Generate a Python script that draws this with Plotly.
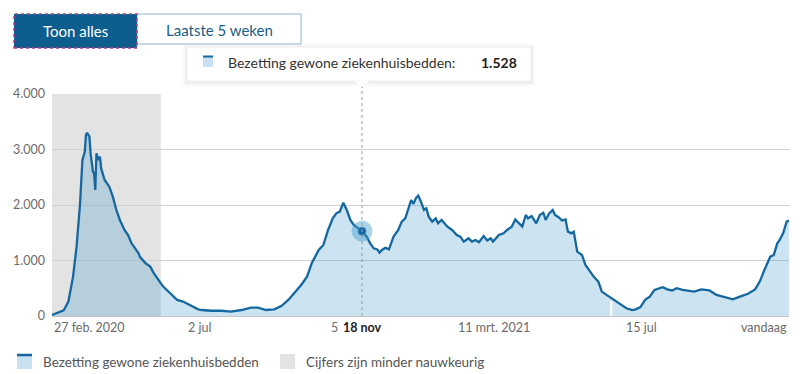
import numpy as np
import pandas as pd
import plotly.graph_objects as go

# ---------------- data ----------------
dates = [
    "2020-02-27", "2020-03-08", "2020-03-12", "2020-03-16", "2020-03-19", "2020-03-22",
    "2020-03-24", "2020-03-26", "2020-03-27", "2020-03-28", "2020-03-30", "2020-03-31",
    "2020-04-02", "2020-04-03", "2020-04-04", "2020-04-05", "2020-04-07", "2020-04-08",
    "2020-04-09", "2020-04-12", "2020-04-16", "2020-04-19", "2020-04-22", "2020-04-25",
    "2020-04-29", "2020-05-02", "2020-05-05", "2020-05-08", "2020-05-11", "2020-05-12",
    "2020-05-17", "2020-05-21", "2020-05-24", "2020-05-28", "2020-06-01", "2020-06-07",
    "2020-06-13", "2020-06-18", "2020-06-24", "2020-07-01", "2020-07-04", "2020-07-12",
    "2020-07-21", "2020-07-29", "2020-08-07", "2020-08-15", "2020-08-21", "2020-08-28",
    "2020-09-04", "2020-09-10", "2020-09-16", "2020-09-22", "2020-09-27", "2020-10-02",
    "2020-10-06", "2020-10-12", "2020-10-16", "2020-10-20", "2020-10-24", "2020-10-27",
    "2020-10-30", "2020-11-02", "2020-11-05", "2020-11-08", "2020-11-11", "2020-11-18",
    "2020-11-22", "2020-11-25", "2020-11-28", "2020-12-01", "2020-12-03", "2020-12-05",
    "2020-12-08", "2020-12-11", "2020-12-15", "2020-12-19", "2020-12-22", "2020-12-25",
    "2020-12-28", "2020-12-30", "2021-01-01", "2021-01-03", "2021-01-05", "2021-01-07",
    "2021-01-10", "2021-01-12", "2021-01-14", "2021-01-17", "2021-01-20", "2021-01-22",
    "2021-01-25", "2021-01-30", "2021-02-03", "2021-02-07", "2021-02-10", "2021-02-13",
    "2021-02-17", "2021-02-20", "2021-02-23", "2021-02-26", "2021-03-02", "2021-03-05",
    "2021-03-08", "2021-03-10", "2021-03-15", "2021-03-19", "2021-03-22", "2021-03-26",
    "2021-03-29", "2021-04-01", "2021-04-04", "2021-04-07", "2021-04-09", "2021-04-12",
    "2021-04-16", "2021-04-19", "2021-04-22", "2021-04-24", "2021-04-27", "2021-04-30",
    "2021-05-02", "2021-05-05", "2021-05-08", "2021-05-11", "2021-05-13", "2021-05-16",
    "2021-05-18", "2021-05-21", "2021-05-25", "2021-05-28", "2021-05-31", "2021-06-04",
    "2021-06-08", "2021-06-11", "2021-06-15", "2021-06-21", "2021-06-27", "2021-07-02",
    "2021-07-07", "2021-07-10", "2021-07-14", "2021-07-18", "2021-07-22", "2021-07-26",
    "2021-08-02", "2021-08-06", "2021-08-10", "2021-08-14", "2021-08-19", "2021-08-23",
    "2021-08-29", "2021-09-04", "2021-09-11", "2021-09-17", "2021-09-24", "2021-10-01",
    "2021-10-07", "2021-10-14", "2021-10-20", "2021-10-24", "2021-10-28", "2021-11-02",
    "2021-11-05", "2021-11-08", "2021-11-10", "2021-11-13", "2021-11-16", "2021-11-18",
]
beds = [
    20, 100, 260, 710, 1250, 2030,
    2810, 2960, 3260, 3300, 3230, 2930,
    2600, 2570, 2270, 2930, 2810, 2870,
    2660, 2450, 2330, 2150, 1910, 1730,
    1550, 1460, 1310, 1220, 1130, 1070,
    950, 890, 770, 650, 530, 410,
    290, 260, 200, 120, 108, 95,
    95, 80, 108, 150, 150, 108,
    120, 180, 290, 440, 560, 710,
    950, 1190, 1280, 1550, 1760, 1850,
    1880, 2040, 1910, 1730, 1640, 1528,
    1430, 1310, 1220, 1200, 1140, 1190,
    1230, 1200, 1430, 1550, 1700, 1760,
    1970, 2090, 2020, 2120, 2170, 2080,
    1910, 1940, 1790, 1700, 1760, 1670,
    1730, 1610, 1550, 1460, 1430, 1340,
    1400, 1340, 1370, 1330, 1440, 1360,
    1400, 1340, 1460, 1490, 1550, 1610,
    1740, 1670, 1610, 1820, 1760, 1800,
    1670, 1820, 1860, 1730, 1850, 1910,
    1820, 1780, 1720, 1740, 1520, 1490,
    1520, 1160, 1100, 920, 830, 710,
    620, 440, 380, 290, 200, 140,
    108, 120, 160, 290, 350, 470,
    520, 480, 460, 500, 470, 460,
    440, 480, 460, 380, 340, 300,
    350, 400, 480, 620, 830, 1070,
    1100, 1310, 1370, 1490, 1700, 1720,
]

series_name = "Bezetting gewone ziekenhuisbedden"
uncertain_name = "Cijfers zijn minder nauwkeurig"
uncertain_start = "2020-02-27"
uncertain_end = "2020-05-30"
hover_date = "2020-11-18"
gap_date = "2021-06-19"

y_ticks = [0, 1000, 2000, 3000, 4000]
x_tick_dates = ["2020-02-27", "2020-07-02", "2020-11-05", "2021-03-11", "2021-07-15", "2021-11-18"]
x_tick_labels = ["27 feb. 2020", "2 jul", "5 nov", "11 mrt. 2021", "15 jul", "vandaag"]
hover_label = "18 nov"
buttons = ["Toon alles", "Laatste 5 weken"]

# ---------------- styling ----------------
W, H = 800, 374
ML, MR, MT, MB = 52, 11, 94, 58
PW, PH = W - ML - MR, H - MT - MB
FONT = "Lato"
LINE = "#15679f"
FILL = "rgba(66,155,207,0.27)"
ICON_FILL = "#c8e1f1"
GREY = "#e3e3e3"


def px(x):
    return (x - ML) / PW


def py(y):
    return (H - MB - y) / PH


def thousands(v):
    return f"{v:,}".replace(",", ".")


d = pd.to_datetime(dates)
hv = beds[dates.index(hover_date)]
ordinals = np.array([t.toordinal() for t in d])
gap_val = float(np.interp(pd.Timestamp(gap_date).toordinal(), ordinals, beds))

fig = go.Figure()
fig.add_trace(go.Scatter(
    x=dates, y=beds, mode="lines", fill="tozeroy", fillcolor=FILL,
    line=dict(color=LINE, width=2.3), name=series_name, showlegend=False,
    hoverinfo="skip",
))
# hover marker (halo + dot)
fig.add_trace(go.Scatter(
    x=[hover_date], y=[hv], mode="markers",
    marker=dict(size=21, color="rgba(66,155,207,0.45)"), showlegend=False, hoverinfo="skip",
))
fig.add_trace(go.Scatter(
    x=[hover_date], y=[hv], mode="markers",
    marker=dict(size=8, color=LINE, line=dict(color="#3f8fc4", width=1)), showlegend=False,
    hoverinfo="skip",
))

shapes = []
# grey "less accurate" band
shapes.append(dict(type="rect", xref="x", yref="paper", x0=uncertain_start, x1=uncertain_end,
                   y0=0, y1=1, fillcolor=GREY, line=dict(width=0), layer="below"))
# white gap in fill
shapes.append(dict(type="line", xref="x", yref="y", x0=gap_date, x1=gap_date, y0=0,
                   y1=gap_val * 0.85, line=dict(color="white", width=2)))
# hover vertical dotted line
shapes.append(dict(type="line", xref="x", yref="paper", x0=hover_date, x1=hover_date,
                   y0=0, y1=py(86), line=dict(color="#999999", width=1, dash="dot")))

# buttons
shapes.append(dict(type="rect", xref="paper", yref="paper", x0=px(137), x1=px(301),
                   y0=py(44), y1=py(14), fillcolor="white", line=dict(color="#8fb2ca", width=1)))
shapes.append(dict(type="rect", xref="paper", yref="paper", x0=px(14), x1=px(137),
                   y0=py(48), y1=py(14), fillcolor="#0d5d8e",
                   line=dict(color="#b23f8e", width=1.5, dash="dot")))

# tooltip box with soft shadow
for grow, col in [(4, "rgba(0,0,0,0.025)"), (2, "rgba(0,0,0,0.04)")]:
    shapes.append(dict(type="rect", xref="paper", yref="paper",
                       x0=px(187 - grow), x1=px(531 + grow), y0=py(81 + grow + 1), y1=py(47 - grow + 1),
                       fillcolor=col, line=dict(width=0)))
shapes.append(dict(type="rect", xref="paper", yref="paper", x0=px(187), x1=px(531),
                   y0=py(81), y1=py(47), fillcolor="white", line=dict(color="#eeeeee", width=1)))
tri = f"M {px(354)} {py(80.5)} L {px(361.5)} {py(87)} L {px(369)} {py(80.5)} Z"
shapes.append(dict(type="path", xref="paper", yref="paper", path=tri,
                   fillcolor="white", line=dict(width=0)))
# tooltip icon
shapes.append(dict(type="rect", xref="paper", yref="paper", x0=px(203), x1=px(213),
                   y0=py(67), y1=py(56), fillcolor=ICON_FILL, line=dict(width=0)))
shapes.append(dict(type="line", xref="paper", yref="paper", x0=px(203), x1=px(213),
                   y0=py(56.5), y1=py(56.5), line=dict(color=LINE, width=2)))

# legend icons
shapes.append(dict(type="rect", xref="paper", yref="paper", x0=px(17), x1=px(32),
                   y0=py(369), y1=py(354), fillcolor=ICON_FILL, line=dict(width=0)))
shapes.append(dict(type="line", xref="paper", yref="paper", x0=px(17), x1=px(32),
                   y0=py(355), y1=py(355), line=dict(color=LINE, width=2.5)))
shapes.append(dict(type="rect", xref="paper", yref="paper", x0=px(280), x1=px(295),
                   y0=py(369), y1=py(354), fillcolor=GREY, line=dict(width=0)))

ann = []
# x tick labels
for i, (dt, lab) in enumerate(zip(x_tick_dates, x_tick_labels)):
    anchor = "left" if i == 0 else ("right" if i == len(x_tick_dates) - 1 else "center")
    ann.append(dict(x=dt, xref="x", y=py(327), yref="paper", text=lab, showarrow=False,
                    xanchor=anchor, yanchor="middle",
                    font=dict(family=FONT, size=12.5, color="#6b6b6b")))
ann.append(dict(x=hover_date, xref="x", y=py(327), yref="paper", text=f"<b>{hover_label}</b>",
                showarrow=False, xanchor="center", yanchor="middle", bgcolor="white", borderpad=1,
                font=dict(family=FONT, size=12.5, color="#222222")))

# buttons text
ann.append(dict(x=px(75.5), y=py(31), xref="paper", yref="paper", text=buttons[0], showarrow=False,
                xanchor="center", yanchor="middle", font=dict(family=FONT, size=15, color="white")))
ann.append(dict(x=px(219), y=py(30), xref="paper", yref="paper", text=buttons[1], showarrow=False,
                xanchor="center", yanchor="middle", font=dict(family=FONT, size=15, color="#1b5e8a")))

# tooltip text
ann.append(dict(x=px(226), y=py(62.5), xref="paper", yref="paper", text=series_name + ":",
                showarrow=False, xanchor="left", yanchor="middle",
                font=dict(family=FONT, size=14, color="#333333")))
ann.append(dict(x=px(519), y=py(62.5), xref="paper", yref="paper", text=f"<b>{thousands(hv)}</b>",
                showarrow=False, xanchor="right", yanchor="middle",
                font=dict(family=FONT, size=14, color="#222222")))

# legend text
ann.append(dict(x=px(41), y=py(361.5), xref="paper", yref="paper", text=series_name, showarrow=False,
                xanchor="left", yanchor="middle", font=dict(family=FONT, size=13.5, color="#555555")))
ann.append(dict(x=px(304), y=py(361.5), xref="paper", yref="paper", text=uncertain_name, showarrow=False,
                xanchor="left", yanchor="middle", font=dict(family=FONT, size=13.5, color="#555555")))

fig.update_layout(
    width=W, height=H,
    margin=dict(l=ML, r=MR, t=MT, b=MB),
    paper_bgcolor="white", plot_bgcolor="white",
    separators=",.",
    showlegend=False,
    font=dict(family=FONT, size=12.5, color="#6b6b6b"),
    shapes=shapes, annotations=ann,
    xaxis=dict(range=[dates[0], dates[-1]], showgrid=False, showticklabels=False,
               zeroline=False, showline=False, ticks=""),
    yaxis=dict(range=[0, 4000], tickvals=y_ticks, tickformat=",d", showgrid=True,
               gridcolor="#d0d0d0", gridwidth=1, zeroline=True, zerolinecolor="#c4c4c4",
               zerolinewidth=1, showline=False, ticks="", ticklabelstandoff=6,
               tickfont=dict(family=FONT, size=12.5, color="#6b6b6b")),
)

fig.write_html("out.html", config={"displayModeBar": False},
               post_script="document.body.style.margin='0px';document.body.style.overflow='hidden';")
